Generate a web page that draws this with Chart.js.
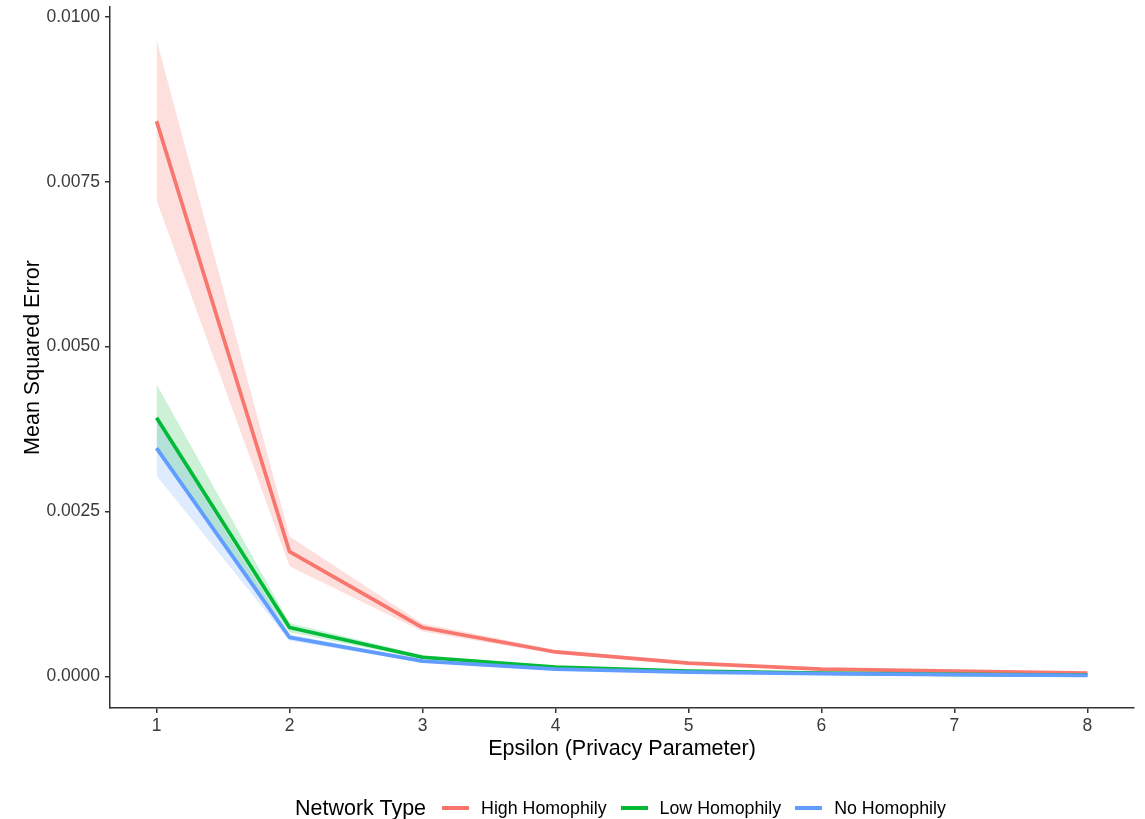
<!DOCTYPE html>
<html>
<head>
<meta charset="utf-8">
<script src="https://cdn.jsdelivr.net/npm/chart.js@4/dist/chart.umd.min.js"></script>
<style>
  body { margin: 0; background: #fff; overflow: hidden; font-family: "Liberation Sans", Arial, sans-serif; }
  #wrap { position: relative; width: 1145px; height: 819px; }
  #legend { position: absolute; left: 295px; top: 796px; height: 24px; display: flex; align-items: center; white-space: nowrap; }
  #legend .title { font-size: 21.5px; color: #000; margin-right: 16px; }
  #legend .key { width: 27px; height: 3.5px; margin-right: 12px; }
  #legend .lbl { font-size: 17.8px; color: #000; margin-right: 14px; }
</style>
</head>
<body>
<div id="wrap">
  <canvas id="myChart" width="1145" height="819"></canvas>
  <div id="legend"></div>
</div>
<script>
const epsilon = [1, 2, 3, 4, 5, 6, 7, 8];
const xTicks = [1, 2, 3, 4, 5, 6, 7, 8];
const yTicks = [0, 0.0025, 0.005, 0.0075, 0.01];

const seriesNames = ["High Homophily", "Low Homophily", "No Homophily"];
const seriesColors = ["#F8766D", "#00BA38", "#619CFF"];
const ribbonColors = ["rgba(248,118,109,0.23)", "rgba(0,186,56,0.2)", "rgba(97,156,255,0.2)"];

const highMean = [0.00842, 0.00189, 0.00074, 0.00037, 0.0002, 0.00011, 0.00008, 0.00005];
const highUpper = [0.00965, 0.00212, 0.0008, 0.0004, 0.00022, 0.00012, 0.00009, 0.00006];
const highLower = [0.00722, 0.00167, 0.00068, 0.00034, 0.00018, 0.0001, 0.00007, 0.00004];

const lowMean = [0.00392, 0.00074, 0.00029, 0.00014, 0.00008, 0.00005, 0.00003, 0.00002];
const lowUpper = [0.00443, 0.00081, 0.00032, 0.00016, 0.00009, 0.00006, 0.00004, 0.00003];
const lowLower = [0.00341, 0.00067, 0.00026, 0.00012, 0.00007, 0.00004, 0.00002, 0.00001];

const noMean = [0.00346, 0.00059, 0.00023, 0.00011, 0.000065, 0.00004, 0.000025, 0.000015];
const noUpper = [0.00388, 0.00064, 0.00025, 0.00012, 0.00007, 0.000045, 0.00003, 0.00002];
const noLower = [0.00304, 0.00054, 0.00021, 0.0001, 0.00006, 0.000035, 0.00002, 0.00001];

const means = [highMean, lowMean, noMean];
const uppers = [highUpper, lowUpper, noUpper];
const lowers = [highLower, lowLower, noLower];

function toPoints(values) {
  return epsilon.map((x, i) => ({ x, y: values[i] }));
}

const datasets = [];
// ribbons: upper band fills down to the next dataset (its lower band)
seriesNames.forEach((name, i) => {
  datasets.push({
    label: name + " upper",
    data: toPoints(uppers[i]),
    borderWidth: 0,
    pointRadius: 0,
    backgroundColor: ribbonColors[i],
    fill: "+1",
    order: 10,
  });
  datasets.push({
    label: name + " lower",
    data: toPoints(lowers[i]),
    borderWidth: 0,
    pointRadius: 0,
    fill: false,
    order: 10,
  });
});
seriesNames.forEach((name, i) => {
  datasets.push({
    label: name,
    data: toPoints(means[i]),
    borderColor: seriesColors[i],
    borderWidth: 3.7,
    borderJoinStyle: "round",
    pointRadius: 0,
    fill: false,
    order: 3 - i,
  });
});

const font = "'Liberation Sans', Arial, sans-serif";

new Chart(document.getElementById("myChart"), {
  type: "line",
  data: { datasets },
  options: {
    responsive: false,
    animation: false,
    devicePixelRatio: 1,
    layout: { padding: { left: 0, right: 11, top: 7, bottom: 51 } },
    plugins: {
      legend: { display: false },
      tooltip: { enabled: false },
    },
    scales: {
      x: {
        type: "linear",
        min: 0.65,
        max: 8.35,
        afterBuildTicks: (axis) => {
          axis.ticks = xTicks.map((v) => ({ value: v }));
        },
        afterFit: (axis) => {
          axis.height = 60;
          axis.paddingLeft = 0;
          axis.paddingRight = 0;
        },
        border: { display: true, color: "#333", width: 1.5 },
        grid: { drawOnChartArea: false, drawTicks: true, tickLength: 5, color: "#333", lineWidth: 1.5 },
        ticks: {
          color: "#3a3a3a",
          font: { family: font, size: 17.5 },
          padding: 3,
          maxRotation: 0,
          callback: (v) => String(v),
        },
        title: {
          display: true,
          text: "Epsilon (Privacy Parameter)",
          color: "#000",
          font: { family: font, size: 21.5, lineHeight: 1.2 },
          padding: { top: 0, bottom: 6 },
        },
      },
      y: {
        type: "linear",
        min: -0.00048,
        max: 0.01015,
        afterBuildTicks: (axis) => {
          axis.ticks = yTicks.map((v) => ({ value: v }));
        },
        afterFit: (axis) => {
          axis.width = 110;
          axis.paddingTop = 0;
          axis.paddingBottom = 0;
        },
        border: { display: true, color: "#333", width: 1.5 },
        grid: { drawOnChartArea: false, drawTicks: true, tickLength: 5, color: "#333", lineWidth: 1.5 },
        ticks: {
          color: "#3a3a3a",
          font: { family: font, size: 17.5 },
          padding: 5,
          callback: (v) => v.toFixed(4),
        },
        title: {
          display: true,
          text: "Mean Squared Error",
          color: "#000",
          font: { family: font, size: 21.5, lineHeight: 1.2 },
          padding: { top: 20, bottom: 0 },
        },
      },
    },
  },
});

// legend row, ggplot style: title on the left, keys in one line
const legend = document.getElementById("legend");
const legendTitle = document.createElement("span");
legendTitle.className = "title";
legendTitle.textContent = "Network Type";
legend.appendChild(legendTitle);
seriesNames.forEach((name, i) => {
  const key = document.createElement("span");
  key.className = "key";
  key.style.background = seriesColors[i];
  legend.appendChild(key);
  const lbl = document.createElement("span");
  lbl.className = "lbl";
  lbl.textContent = name;
  legend.appendChild(lbl);
});
</script>
</body>
</html>
